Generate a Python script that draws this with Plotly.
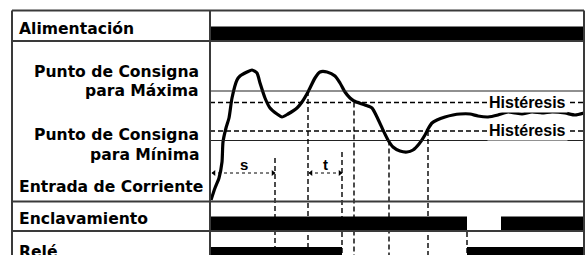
import plotly.graph_objects as go

# ---------------- data (diagram coordinates: time -> x, level -> y) ----------------
row_labels = ["Alimentación", "Entrada de Corriente", "Enclavamiento", "Relé"]
setpoint_labels = [["Punto de Consigna", "para Máxima"], ["Punto de Consigna", "para Mínima"]]
hyst_label = "Histéresis"

# current input signal (time, level)
curve_t = [211, 215, 219, 222, 223, 226, 229, 232, 237, 240, 247, 252, 257, 260, 265, 270,
           277, 282, 288, 297, 302, 308, 315, 320, 327, 335, 340, 345, 350, 354, 365, 372,
           377, 383, 388, 393, 400, 407, 413, 419, 425, 428, 432, 437, 445, 453, 460, 470,
           478, 488, 498, 508, 515, 522, 532, 542, 552, 565, 575, 584]
curve_v = [200, 188, 178, 162, 142, 128, 118, 98, 80, 76, 72, 70, 73, 83, 98, 108,
           114, 117, 114, 108, 102, 92, 78, 72, 72, 76, 83, 92, 98, 101, 105, 108,
           117, 130, 140, 147, 151, 152, 150, 144, 135, 129, 123, 120, 117, 115, 114, 114,
           116, 117, 115, 112, 113, 114, 112, 113, 112, 113, 115, 113]

# levels
setpoint_max = 91
hyst_max = 102.5
hyst_min = 131
setpoint_min = 140.5

# state intervals (on periods)
alimentacion_on = [(211, 584)]
enclavamiento_on = [(211, 467), (501, 584)]
rele_on = [(211, 342), (467, 584)]

# event markers: time and start level of the dashed marker
event_t = [275, 308, 342, 354, 389, 428, 467]
event_top = [158, 91, 152, 102.5, 140.5, 131, 232]

# delay intervals
delay_names = ["s", "t"]
delay_start = [212, 309]
delay_end = [275, 342]

# ---------------- layout constants ----------------
W, H = 586, 255
X0, X1, XDIV = 12, 584, 210
Y_TOP = 10.5
ROW_LINES = [41, 201.5, 231]
FRAME = "#3a3a3a"

fig = go.Figure()
shapes = []

# state bars
def bars(intervals, y0, y1):
    for a, b in intervals:
        shapes.append(dict(type="rect", xref="x", yref="y", x0=a, x1=b, y0=y0, y1=y1,
                           fillcolor="black", line=dict(width=0), layer="above"))

bars(alimentacion_on, 26.5, 41)
bars(enclavamiento_on, 216.5, 231)
bars(rele_on, 247, 262)

# setpoint solid lines and hysteresis dashed lines
for lv in (setpoint_max, setpoint_min):
    shapes.append(dict(type="line", xref="x", yref="y", x0=XDIV, x1=X1, y0=lv, y1=lv,
                       line=dict(color="#222", width=1.2)))
for lv in (hyst_max, hyst_min):
    shapes.append(dict(type="line", xref="x", yref="y", x0=XDIV, x1=X1, y0=lv, y1=lv,
                       line=dict(color="black", width=1.4, dash="5px,3px")))

# event dashed verticals
for t, top in zip(event_t, event_top):
    shapes.append(dict(type="line", xref="x", yref="y", x0=t, x1=t, y0=top, y1=262,
                       line=dict(color="black", width=1.4, dash="5px,3px")))

# frame
shapes.append(dict(type="line", xref="x", yref="y", x0=X0, x1=X1, y0=Y_TOP, y1=Y_TOP,
                   line=dict(color=FRAME, width=2), layer="above"))
for yl in ROW_LINES:
    shapes.append(dict(type="line", xref="x", yref="y", x0=X0, x1=X1, y0=yl, y1=yl,
                       line=dict(color=FRAME, width=2), layer="above"))
for xv in (X0, XDIV, X1):
    shapes.append(dict(type="line", xref="x", yref="y", x0=xv, x1=xv, y0=Y_TOP, y1=262,
                       line=dict(color=FRAME, width=2), layer="above"))

# input curve
fig.add_trace(go.Scatter(x=curve_t, y=curve_v, mode="lines",
                         line=dict(color="black", width=3.2, shape="spline", smoothing=0.6),
                         hoverinfo="skip", showlegend=False))

# delay arrows
for name, a, b in zip(delay_names, delay_start, delay_end):
    fig.add_trace(go.Scatter(x=[a, b], y=[173, 173], mode="lines",
                             line=dict(color="black", width=1, dash="dot"),
                             hoverinfo="skip", showlegend=False))
    fig.add_trace(go.Scatter(x=[a + 2, b - 2], y=[173, 173], mode="markers",
                             marker=dict(symbol=["triangle-left", "triangle-right"], size=5,
                                         color="black"),
                             hoverinfo="skip", showlegend=False))

annotations = []
LBL = dict(family="DejaVu Sans", size=15.6, color="black", weight="bold")

def label(text, x, y, anchor):
    annotations.append(dict(text=text, x=x, y=y, xref="x", yref="y", xanchor=anchor,
                            yanchor="middle", showarrow=False, font=LBL))

label(row_labels[0], 17, 28.5, "left")
label(setpoint_labels[0][0], 201, 71.5, "right")
label(setpoint_labels[0][1], 201, 91, "right")
label(setpoint_labels[1][0], 201, 135, "right")
label(setpoint_labels[1][1], 201, 155, "right")
label(row_labels[1], 17, 187, "left")
label(row_labels[2], 17, 219, "left")
label(row_labels[3], 17, 251.5, "left")

for name, a, b in zip(delay_names, delay_start, delay_end):
    annotations.append(dict(text=name, x=(a + b) / 2, y=164, xref="x", yref="y",
                            showarrow=False, font=dict(family="Liberation Sans", size=15,
                                                       color="black", weight="bold")))

for lv in (hyst_max, hyst_min):
    annotations.append(dict(text=hyst_label, x=527, y=lv - 0.5, xref="x", yref="y",
                            xanchor="center", yanchor="middle", showarrow=False,
                            bgcolor="white", borderpad=1,
                            font=dict(family="Liberation Sans", size=16, color="black",
                                      weight="bold")))

fig.update_layout(
    width=W, height=H, margin=dict(l=0, r=0, t=0, b=0),
    paper_bgcolor="white", plot_bgcolor="white",
    shapes=shapes, annotations=annotations, showlegend=False,
    xaxis=dict(range=[0, W], visible=False, fixedrange=True),
    yaxis=dict(range=[H, 0], visible=False, fixedrange=True),
)

fig.write_html("out.html", config={"displayModeBar": False},
               post_script="document.body.style.margin='0';document.body.style.overflow='hidden';")
